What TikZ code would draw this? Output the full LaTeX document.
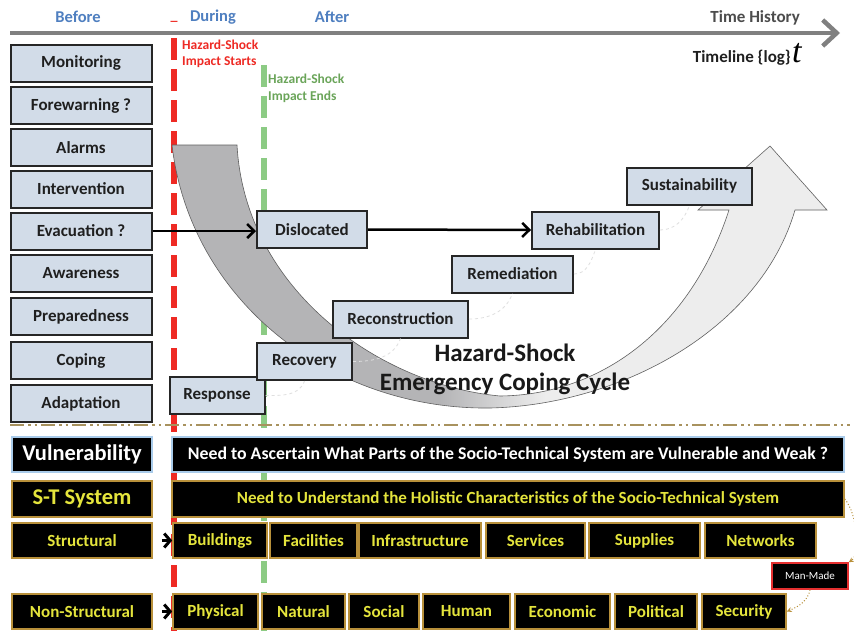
\documentclass[tikz,border=0pt]{standalone}
\usepackage{fontspec}
\setmainfont{Carlito}
\newfontfamily\varfont{Liberation Serif}
\usetikzlibrary{arrows.meta}

\definecolor{boxfill}{HTML}{D2DCE8}
\definecolor{hdrblue}{HTML}{4F7FC0}
\definecolor{shockred}{HTML}{EE2A24}
\definecolor{shockgreen}{HTML}{8CCB84}
\definecolor{greentext}{HTML}{6BA55A}
\definecolor{axisgray}{HTML}{808080}
\definecolor{bandDark}{HTML}{B4B4B6}
\definecolor{bandLight}{HTML}{EDEDED}
\definecolor{sepgold}{HTML}{A8925E}
\definecolor{gold}{HTML}{B8903A}
\definecolor{stext}{HTML}{E4E43C}
\definecolor{vulnblue}{HTML}{A9CBEA}
\definecolor{mmred}{HTML}{E53030}

\newcommand{\fsz}[1]{\fontsize{#1}{1.2\dimexpr#1pt\relax}\selectfont}

\tikzset{
  hdr/.style={text=hdrblue, font=\bfseries\fsz{16.5}, inner sep=0pt},
  stage/.style={draw=black!85, line width=2pt, fill=boxfill, text=black!88,
    font=\bfseries\fsz{17}, inner sep=0pt, minimum height=37pt},
  leftbox/.style={stage, minimum width=141pt},
  conn/.style={black, line width=2.5pt, -{Straight Barb[length=7pt,width=14pt]}},
  faint/.style={draw=gray!25, dashed, line width=0.8pt},
  shockline/.style={line width=6pt, dash pattern=on 22pt off 9pt},
  blk/.style={draw=gold, line width=1.6pt, fill=black, text=stext,
    font=\bfseries\fsz{17}, inner sep=0pt, minimum height=35pt},
  vul/.style={blk, draw=vulnblue, text=white},
  chev/.style={black, line width=3pt, shorten <=9pt, -{Straight Barb[length=6pt,width=14pt]}},
  golddot/.style={draw=gold, line width=1pt, dotted, -{Stealth[length=5pt,width=5pt]}},
}

\def\bandpath{(172,145) -- (237,145)
  .. controls (245,290) and (380,385) .. (500,396)
  .. controls (600,395) and (690,330) .. (729,210)
  -- (698,210) -- (770,146) -- (827,210) -- (795,210)
  .. controls (760,330) and (620,405) .. (490,408)
  .. controls (330,410) and (190,300) .. (172,145) -- cycle}

\begin{document}
\begin{tikzpicture}[x=1pt,y=-1pt]
\useasboundingbox (0,0) rectangle (854,630);
\fill[white] (0,0) rectangle (854,630);

% phase headings
\node[hdr] (before) at (78,17) {Before};
\node[hdr] (during) at (213,17) {During};
\node[hdr] (after) at (332,17) {After};
\node[text=shockred, font=\bfseries\fsz{14}, inner sep=0pt] (tick) at (174,21) {\_};

% time axis
\coordinate (t0) at (10,33);
\coordinate (t1) at (840,33);
\draw[axisgray, line width=4.5pt, -{Straight Barb[length=14pt,width=26pt]}] (t0) -- (t1);
\node[anchor=east, text=black!70, font=\bfseries\fsz{17}, inner sep=0pt] (hist) at (800,18) {Time History};
\node[anchor=east, text=black!88, font=\bfseries\fsz{17}, inner sep=0pt] (tl) at (791,58) {Timeline \{log\}};
\node[anchor=base west, font=\varfont\itshape\fsz{34}, inner sep=0pt] (tvar) at (792,62) {t};

% impact start / end markers
\coordinate (rtop) at (174,38);
\coordinate (rbot) at (174,632);
\coordinate (gtop) at (264,65);
\coordinate (gbot) at (264,632);
\draw[shockline, shockred] (rtop) -- (rbot);
\draw[shockline, shockgreen] (gtop) -- (gbot);
\node[anchor=north west, align=left, text=shockred, font=\bfseries\fsz{13.5}, inner sep=0pt]
  (startlbl) at (182,40) {Hazard-Shock\\[-0.5pt]Impact Starts};
\node[anchor=north west, align=left, text=greentext, font=\bfseries\fsz{13.5}, inner sep=0pt]
  (endlbl) at (268,74) {Hazard-Shock\\[1pt]Impact Ends};

% coping-cycle band
\begin{scope}
  \clip \bandpath;
  \fill[bandDark] (150,130) rectangle (440,420);
  \shade[left color=bandDark, right color=bandLight] (440,130) rectangle (545,420);
  \fill[bandLight] (545,130) rectangle (840,420);
\end{scope}
\draw[gray!75!black, line width=0.6pt] \bandpath;

% stage boxes before the shock
\node[leftbox] (mon)   at (81,63)    {Monitoring};
\node[leftbox] (fore)  at (81,105.5) {Forewarning ?};
\node[leftbox] (alarm) at (81,147.5) {Alarms};
\node[leftbox] (inter) at (81,189)   {Intervention};
\node[leftbox] (evac)  at (81,231)   {Evacuation ?};
\node[leftbox] (aware) at (81,273.5) {Awareness};
\node[leftbox] (prep)  at (81,316.5) {Preparedness};
\node[leftbox] (cope)  at (81,360.5) {Coping};
\node[leftbox] (adapt) at (81,403.5) {Adaptation};

% stages along the cycle
\node[stage, minimum width=95pt]  (resp)   at (217,395.5) {Response};
\node[stage, minimum width=95pt]  (recov)  at (304.5,361.5) {Recovery};
\node[stage, minimum width=135pt] (recon)  at (400.5,319) {Reconstruction};
\node[stage, minimum width=121pt] (remed)  at (512.5,274) {Remediation};
\node[stage, minimum width=127pt] (rehab)  at (595.5,230) {Rehabilitation};
\node[stage, minimum width=125pt] (sustain) at (689.5,186) {Sustainability};
\node[stage, minimum width=110pt] (disl)   at (312,229.5) {Dislocated};

% faint links between successive stages
\draw[faint] (resp.east)  to[out=0, in=-110] (recov.south);
\draw[faint] (recov.east) to[out=0, in=-110] (recon.south);
\draw[faint] (recon.east) to[out=0, in=-110] (remed.south);
\draw[faint] (remed.east) to[out=0, in=-110] (rehab.south);
\draw[faint] (rehab.east) to[out=0, in=-110] (sustain.south);

% flow arrows
\draw[conn] (evac.east) -- (evac.east -| disl.west);
\draw[conn] (disl.east) -- (rehab.west);

\node[align=center, font=\bfseries\fsz{25}, text=black!90, inner sep=0pt] (cycle) at (505,369)
  {Hazard-Shock\\[-1pt]Emergency Coping Cycle};

% separator
\coordinate (sepL) at (10,425);
\coordinate (sepR) at (850,425);
\draw[sepgold, line width=2.5pt, dash pattern=on 14pt off 4pt on 2.5pt off 4pt on 2.5pt off 4pt] (sepL) -- (sepR);

% vulnerability and system rows
\node[vul, minimum width=140pt, font=\bfseries\fsz{22.5}] (vuln) at (82,454.5) {Vulnerability};
\node[vul, minimum width=672pt, font=\bfseries\fsz{17.8}] (vulnq) at (508,454.5)
  {Need to Ascertain What Parts of the Socio-Technical System are Vulnerable and Weak ?};
\node[blk, minimum width=140pt, minimum height=36pt, font=\bfseries\fsz{22.5}] (st) at (82,499) {S-T System};
\node[blk, minimum width=672pt, minimum height=36pt] (stq) at (508,499)
  {Need to Understand the Holistic Characteristics of the Socio-Technical System};

% structural elements
\node[blk, minimum width=140pt] (struct) at (82,540.5) {Structural};
\node[blk, minimum width=94pt]  (build)  at (220,540.5) {Buildings};
\node[blk, minimum width=87pt]  (facil)  at (313.5,540.5) {Facilities};
\node[blk, minimum width=122pt] (infra)  at (420,540.5) {Infrastructure};
\node[blk, minimum width=99pt]  (serv)   at (535.5,540.5) {Services};
\node[blk, minimum width=111pt] (supp)   at (644.5,540.5) {Supplies};
\node[blk, minimum width=111pt] (netw)   at (760.5,540.5) {Networks};

% non-structural elements
\node[blk, minimum width=140pt] (nonst)  at (82,611.5) {Non-Structural};
\node[blk, minimum width=85pt]  (phys)   at (215.5,611.5) {Physical};
\node[blk, minimum width=83pt]  (natur)  at (303.5,611.5) {Natural};
\node[blk, minimum width=70pt]  (soc)    at (384,611.5) {Social};
\node[blk, minimum width=87pt]  (hum)    at (466.5,611.5) {Human};
\node[blk, minimum width=95pt]  (econ)   at (562.5,611.5) {Economic};
\node[blk, minimum width=82pt]  (polit)  at (656,611.5) {Political};
\node[blk, minimum width=84pt]  (secur)  at (744,611.5) {Security};

\draw[chev] (struct.east) -- (build.west);
\draw[chev] (nonst.east) -- (phys.west);

% man-made link
\node[draw=mmred, line width=1.6pt, fill=black, text=white, font=\fsz{11},
  minimum width=76pt, minimum height=26pt, inner sep=0pt] (mm) at (810,576) {Man-Made};
\draw[golddot] (stq.east) .. controls (858,515) and (860,555) .. (mm.north east);
\draw[golddot] (mm.south) .. controls (808,600) and (800,606) .. (secur.east);
\end{tikzpicture}
\end{document}
